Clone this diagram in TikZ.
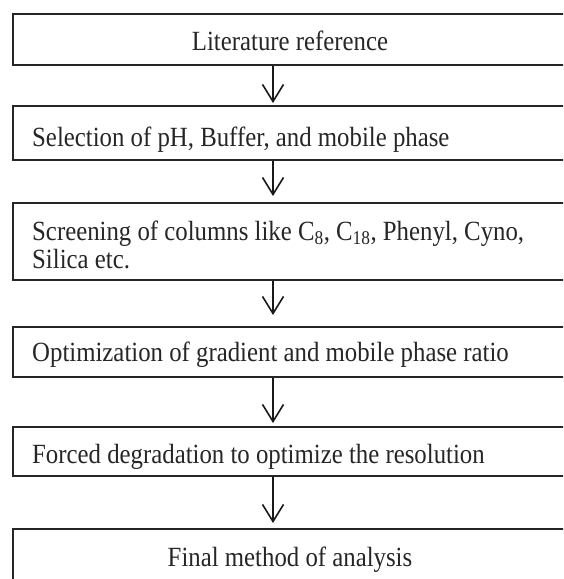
\documentclass[tikz,border=0pt]{standalone}
\usepackage{fontspec}
\setmainfont{Liberation Serif}
\usetikzlibrary{arrows.meta}
\newcommand{\tallt}[1]{\scalebox{1}[1.12]{#1}}
\begin{document}
\begin{tikzpicture}[x=1pt,y=-1pt,
  box/.style={draw=black!85,line width=1.8pt,rectangle,inner sep=0pt,anchor=north west},
  txt/.style={inner sep=0pt,anchor=base west,font=\fontsize{24.8}{28}\selectfont,text=black!85},
  ctxt/.style={inner sep=0pt,anchor=base,font=\fontsize{24.8}{28}\selectfont,text=black!85},
  arr/.style={line width=1.6pt,draw=black!90,-{Straight Barb[length=17pt,width=21pt,line width=1.6pt]}}]
\useasboundingbox (0,0) rectangle (563,579);
\clip (0,0) rectangle (563,579);
\fill[white] (0,0) rectangle (563,579);
% boxes
\node[box,minimum width=600pt,minimum height=51pt] (b1) at (12,13) {};
\node[box,minimum width=600pt,minimum height=54pt] (b2) at (12,105) {};
\node[box,minimum width=600pt,minimum height=77pt] (b3) at (12,202) {};
\node[box,minimum width=600pt,minimum height=50pt] (b4) at (12,326) {};
\node[box,minimum width=600pt,minimum height=49pt] (b5) at (12,426) {};
\node[box,minimum width=600pt,minimum height=90pt] (b6) at (12,528) {};
% texts
\node[ctxt] (t1) at (290,50) {\tallt{Literature reference}};
\node[txt] (t2) at (32,146) {\tallt{Selection of pH, Buffer, and mobile phase}};
\node[txt] (t3a) at (32,240) {\tallt{Screening of columns like C\textsubscript{8}, C\textsubscript{18}, Phenyl, Cyno,}};
\node[txt] (t3b) at (32,268) {\tallt{Silica etc.}};
\node[txt] (t4) at (32,361) {\tallt{Optimization of gradient and mobile phase ratio}};
\node[txt] (t5) at (32,463) {\tallt{Forced degradation to optimize the resolution}};
\node[ctxt] (t6) at (290,566) {\tallt{Final method of analysis}};
% arrows
\coordinate (ax) at (273,0);
\coordinate (e1) at (273,103);
\coordinate (e2) at (273,196);
\coordinate (e3) at (273,315);
\coordinate (e4) at (273,423);
\coordinate (e5) at (273,523);
\draw[arr] (b1.south -| ax) -- (e1);
\draw[arr] (b2.south -| ax) -- (e2);
\draw[arr] (b3.south -| ax) -- (e3);
\draw[arr] (b4.south -| ax) -- (e4);
\draw[arr] (b5.south -| ax) -- (e5);
\end{tikzpicture}
\end{document}
